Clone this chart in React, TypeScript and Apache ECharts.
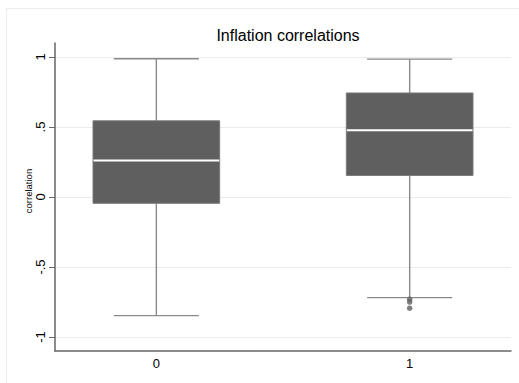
import React, { useEffect, useRef } from "react";
import * as echarts from "echarts";

const categories = [0, 1];
const whiskerLow = [-0.847, -0.719];
const q1 = [-0.045, 0.154];
const median = [0.261, 0.477];
const q3 = [0.544, 0.743];
const whiskerHigh = [0.987, 0.985];
const outlierX = [1, 1, 1];
const outlierY = [-0.73, -0.75, -0.794];
const yTicks = [-1, -0.5, 0, 0.5, 1];
const xTicks = [0, 1];

const fmt = (v: number) => {
  const r = Math.round(v * 100) / 100;
  let s = String(r);
  if (s.startsWith("0.")) s = s.slice(1);
  if (s.startsWith("-0.")) s = "-" + s.slice(2);
  return s;
};

export default function App() {
  const ref = useRef<HTMLDivElement>(null);
  useEffect(() => {
    if (!ref.current) return;
    const chart = echarts.init(ref.current, null, { renderer: "svg" });
    const boxData = categories.map((c, i) => [c, whiskerLow[i], q1[i], median[i], q3[i], whiskerHigh[i]]);
    const font = "Liberation Sans, Arial, sans-serif";
    chart.setOption({
      animation: false,
      backgroundColor: "#fff",
      title: {
        text: "Inflation correlations",
        left: 283,
        textAlign: "center",
        top: 22,
        textStyle: { fontFamily: font, fontSize: 16, fontWeight: "normal", color: "#000" },
      },
      graphic: [
        { type: "line", shape: { x1: 6, y1: 8.5, x2: 519, y2: 8.5 }, style: { stroke: "#ececec", lineWidth: 1 }, silent: true },
        { type: "line", shape: { x1: 6.5, y1: 8, x2: 6.5, y2: 383 }, style: { stroke: "#ececec", lineWidth: 1 }, silent: true },
        {
          type: "text",
          x: 28,
          y: 191,
          rotation: Math.PI / 2,
          style: {
            text: "correlation",
            fontFamily: font,
            fontSize: 9.5,
            fill: "#000",
            align: "center",
            verticalAlign: "middle",
          },
          silent: true,
        },
      ],
      grid: { left: 55, right: 8, top: 43, bottom: 32, containLabel: false },
      xAxis: {
        type: "value",
        min: -0.4,
        max: 1.4,
        axisLine: { show: true, onZero: false, lineStyle: { color: "#666", width: 1.5 } },
        axisTick: { show: false, customValues: xTicks },
        axisLabel: { customValues: xTicks, margin: 6, fontFamily: font, fontSize: 13, color: "#000", formatter: (v: number) => String(v) },
        splitLine: { show: false },
      },
      yAxis: {
        type: "value",
        min: -1.1,
        max: 1.1,
        axisLine: { show: true, onZero: false, lineStyle: { color: "#666", width: 1.5 } },
        axisTick: { show: true, customValues: yTicks, length: 6, lineStyle: { color: "#666", width: 1 } },
        axisLabel: {
          customValues: yTicks,
          rotate: 90,
          margin: 8,
          fontFamily: font,
          fontSize: 13,
          color: "#000",
          formatter: (v: number) => fmt(v),
        },
        splitLine: { show: false },
      },
      series: [
        {
          type: "custom",
          data: boxData,
          encode: { x: 0, y: [1, 2, 3, 4, 5] },
          markLine: {
            silent: true,
            symbol: "none",
            label: { show: false },
            lineStyle: { color: "#ebebeb", type: "solid", width: 1 },
            data: yTicks.map((v) => ({ yAxis: v })),
            z: 0,
          },
          renderItem: (params: any, api: any) => {
            const x = api.value(0);
            const lo = api.coord([x, api.value(1)]);
            const b = api.coord([x, api.value(2)]);
            const m = api.coord([x, api.value(3)]);
            const t = api.coord([x, api.value(4)]);
            const hi = api.coord([x, api.value(5)]);
            const bw = api.size([0.5, 0])[0];
            const cw = api.size([0.336, 0])[0];
            const cx = lo[0];
            const lineStyle = { stroke: "#8a8a8a", lineWidth: 1.4 };
            return {
              type: "group",
              children: [
                { type: "line", shape: { x1: cx, y1: t[1], x2: cx, y2: hi[1] }, style: lineStyle },
                { type: "line", shape: { x1: cx, y1: b[1], x2: cx, y2: lo[1] }, style: lineStyle },
                { type: "line", shape: { x1: cx - cw / 2, y1: hi[1], x2: cx + cw / 2, y2: hi[1] }, style: lineStyle },
                { type: "line", shape: { x1: cx - cw / 2, y1: lo[1], x2: cx + cw / 2, y2: lo[1] }, style: lineStyle },
                {
                  type: "rect",
                  shape: { x: cx - bw / 2, y: t[1], width: bw, height: b[1] - t[1] },
                  style: { fill: "#5f5f5f", stroke: "#7a7a7a", lineWidth: 1 },
                },
                {
                  type: "line",
                  shape: { x1: cx - bw / 2 + 0.5, y1: m[1], x2: cx + bw / 2 - 0.5, y2: m[1] },
                  style: { stroke: "#ffffff", lineWidth: 2 },
                },
              ],
            };
          },
        },
        {
          type: "scatter",
          data: outlierX.map((x, i) => [x, outlierY[i]]),
          symbol: "circle",
          symbolSize: 5.5,
          itemStyle: { color: "#5f5f5f" },
        },
      ],
    });
    return () => chart.dispose();
  }, []);
  return <div ref={ref} style={{ width: 519, height: 383, position: "absolute", left: 0, top: 0 }} />;
}
